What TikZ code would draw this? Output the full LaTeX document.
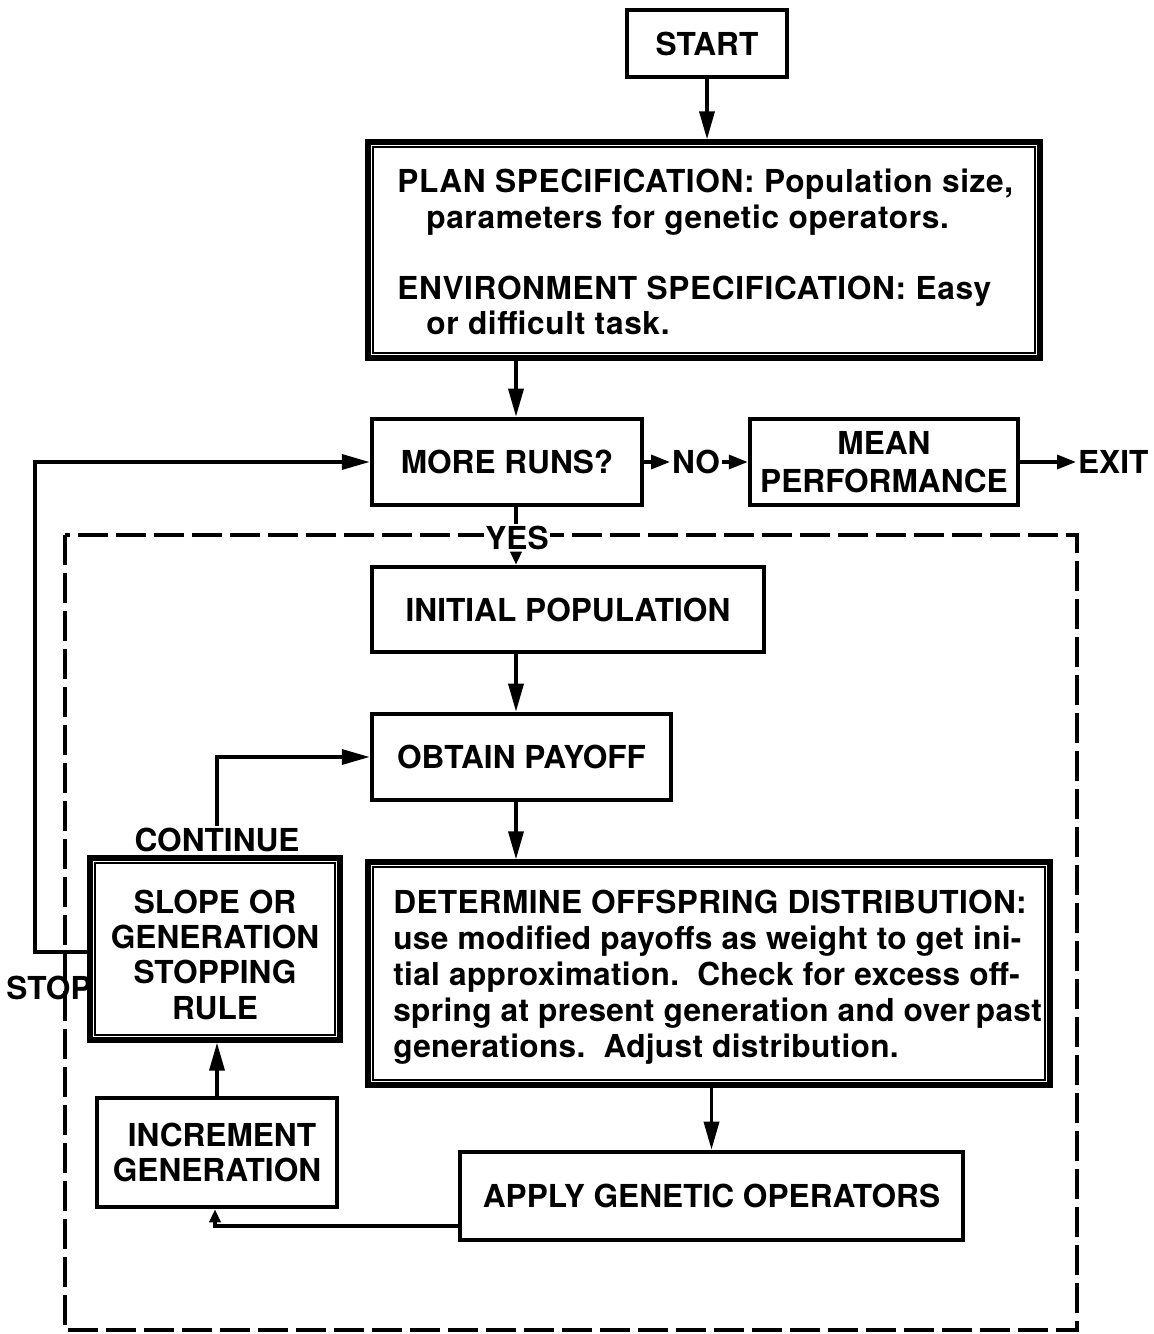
\documentclass[tikz,border=0pt]{standalone}
\usepackage{fontspec}
\setmainfont{TeX Gyre Heros}
\newfontfamily\widefont[LetterSpace=2]{TeX Gyre Heros}
\newfontfamily\midfont[LetterSpace=1]{TeX Gyre Heros}
\usetikzlibrary{arrows.meta,calc}
\tikzset{
  box/.style={draw, line width=2.6pt, inner sep=0pt, align=center},
  dbox/.style={box, line width=3pt},
  innerframe/.style={line width=1.2pt},
  conn/.style={line width=2pt},
  arr/.style={conn, -{Triangle[length=0.56cm,width=0.3cm]}},
  sarr/.style={conn, -{Triangle[length=0.38cm,width=0.28cm]}},
  tarr/.style={conn, -{Triangle[length=0.26cm,width=0.22cm]}},
  lbl/.style={inner sep=1pt},
  dashbox/.style={line width=1.8pt, dash pattern=on 0.6cm off 0.16cm},
}
\begin{document}
\begin{tikzpicture}[x=0.02cm, y=-0.02cm, font=\fontsize{18}{20}\selectfont\bfseries]
\useasboundingbox (0,0) rectangle (1153,1334);
\fill[white] (0,0) rectangle (1153,1334);

% dashed frame
\draw[dashbox] (65,535) rectangle (1077,1330);

% helper coordinates
\coordinate (col) at (516,0);
\coordinate (loopx) at (35,0);
\coordinate (stopy) at (0,952);
\coordinate (appy) at (0,1226);
\coordinate (incx) at (215,0);

% boxes
\node[box, minimum width=3.2cm, minimum height=1.34cm] (start) at (707,43.5) {START};

\node[dbox, minimum width=13.44cm, minimum height=4.32cm] (plan) at (704,250) {};
\draw[innerframe] ($(plan.south west)+(0.16cm,0.16cm)$) rectangle ($(plan.north east)+(-0.16cm,-0.16cm)$);
\node[anchor=west, align=left, inner sep=0pt, font=\fontsize{18}{20}\selectfont\widefont\bfseries] (plantxt) at (397,252)
  {PLAN SPECIFICATION: Population size,\\
   \hspace*{0.58cm}parameters for genetic operators.\\[0.72cm]
   ENVIRONMENT SPECIFICATION: Easy\\
   \hspace*{0.58cm}or difficult task.};

\node[box, minimum width=5.4cm, minimum height=1.72cm] (more) at (507,462) {MORE RUNS?};
\node[lbl] (no) at (696,462) {NO};
\node[box, minimum width=5.36cm, minimum height=1.72cm] (mean) at (884,462) {MEAN\\[2pt]PERFORMANCE};
\node[lbl, anchor=west] (exit) at (1076,462) {EXIT};

\node[lbl, fill=white] (yes) at (517,538) {YES};

\node[box, minimum width=7.84cm, minimum height=1.7cm] (init) at (568,609.5) {INITIAL POPULATION};
\node[box, minimum width=5.98cm, minimum height=1.72cm] (obtain) at (521.5,757) {OBTAIN PAYOFF};

\node[dbox, minimum width=13.64cm, minimum height=4.46cm] (det) at (709,973.5) {};
\draw[innerframe] ($(det.south west)+(0.16cm,0.16cm)$) rectangle ($(det.north east)+(-0.16cm,-0.16cm)$);
\node[anchor=west, align=left, inner sep=0pt, font=\fontsize{18}{20.5}\selectfont\midfont\bfseries] (dettxt) at (393,977)
  {DETERMINE OFFSPRING DISTRIBUTION:\\
   use modified payoffs as weight to get ini-\\
   tial approximation.\ \ Check for excess off-\\
   spring at present generation and over\hspace{0.18em}past\\
   generations.\ \ Adjust distribution.};

\node[box, minimum width=10.06cm, minimum height=1.76cm] (apply) at (711.5,1196) {APPLY GENETIC OPERATORS};
\node[box, minimum width=4.8cm, minimum height=2.18cm] (inc) at (217,1152.5) {\hspace*{0.2cm}INCREMENT\\GENERATION};

\node[dbox, minimum width=5.0cm, minimum height=3.64cm] (slope) at (215,949) {\rule{0pt}{20pt}SLOPE OR\\GENERATION\\STOPPING\\RULE};
\draw[innerframe] ($(slope.south west)+(0.16cm,0.16cm)$) rectangle ($(slope.north east)+(-0.16cm,-0.16cm)$);

\node[lbl] (cont) at (217,840) {CONTINUE};
\node[lbl] (stop) at (49,988) {STOP};

% connectors
\draw[arr] (start.south) -- (start.south |- plan.north);
\draw[arr] (plan.south -| col) -- (more.north -| col);
\draw[sarr] (more.east) -- (no.west);
\draw[sarr] (no.east) -- (mean.west);
\draw[sarr] (mean.east) -- (exit.west);
\draw[conn] (more.south -| col) -- (yes.north -| col);
\draw[tarr] (yes.south -| col) -- (init.north -| col);
\draw[arr] (init.south -| col) -- (obtain.north -| col);
\draw[arr] (obtain.south -| col) -- (det.north -| col);
\draw[arr] (det.south -| apply.north) -- (apply.north);
\draw[tarr] (apply.west |- appy) -- (incx |- appy) -- (inc.south -| incx);
\draw[arr] (inc.north) -- (inc.north |- slope.south);
\draw[arr] (cont.north) |- (obtain.west);
\draw[arr] (slope.west |- stopy) -- (loopx |- stopy) |- (more.west);
\end{tikzpicture}
\end{document}
